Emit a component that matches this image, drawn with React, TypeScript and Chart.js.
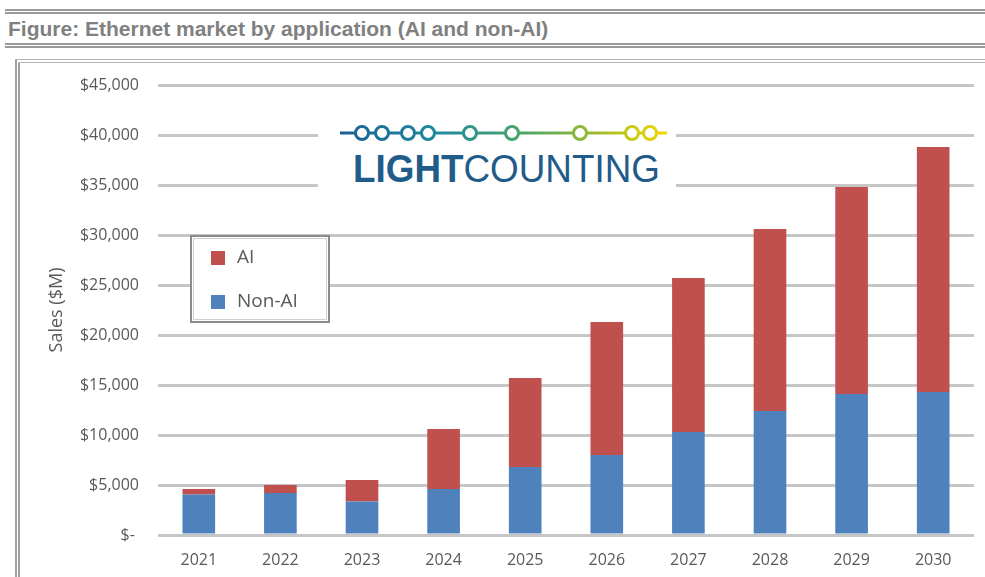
import React, { useEffect, useRef } from 'react';
import { Chart, registerables } from 'chart.js';

Chart.register(...registerables);

const TITLE = 'Figure: Ethernet market by application (AI and non-AI)';
const Y_TITLE = 'Sales ($M)';
const YEARS = ['2021', '2022', '2023', '2024', '2025', '2026', '2027', '2028', '2029', '2030'];
const NON_AI = [4050, 4200, 3350, 4600, 6800, 8000, 10300, 12400, 14100, 14300];
const AI = [550, 800, 2150, 6000, 8900, 13300, 15400, 18200, 20700, 24500];
const Y_MAX = 45000;
const Y_STEP = 5000;
const SERIES_NAMES = ['Non-AI', 'AI'];
const COLORS = ['#4F81BD', '#C0504D'];
const LOGO_DOTS = [0, 20, 46, 66, 108, 150, 218, 270, 288];

const TEXT_GRAY = '#595959';
const FONT = '"Open Sans", "Liberation Sans", sans-serif';

const boxLegend = {
  id: 'boxLegend',
  afterDraw(chart: any) {
    const { ctx, chartArea } = chart;
    const x = chartArea.left + 33;
    const y = chartArea.top + 151;
    const w = 138;
    const h = 86;
    ctx.save();
    ctx.fillStyle = '#ffffff';
    ctx.fillRect(x, y, w, h);
    ctx.strokeStyle = '#8c8c8c';
    ctx.lineWidth = 2;
    ctx.strokeRect(x, y, w, h);
    ctx.strokeStyle = '#d0d0d0';
    ctx.lineWidth = 1;
    ctx.strokeRect(x + 2.5, y + 2.5, w - 5, h - 5);
    const items = chart.data.datasets.map((d: any, i: number) => ({ label: d.label, color: d.backgroundColor, i })).reverse();
    ctx.font = `19px ${FONT}`;
    ctx.textBaseline = 'middle';
    items.forEach((it: any, k: number) => {
      const cy = y + 22 + k * 44;
      ctx.fillStyle = it.color;
      ctx.fillRect(x + 20, cy - 7, 14, 14);
      ctx.fillStyle = TEXT_GRAY;
      ctx.fillText(it.label, x + 46, cy);
    });
    ctx.restore();
  },
};

function ChartView() {
  const ref = useRef<HTMLCanvasElement>(null);
  useEffect(() => {
    if (!ref.current) return;
    const chart = new Chart(ref.current, {
      type: 'bar',
      data: {
        labels: YEARS,
        datasets: [
          { label: SERIES_NAMES[0], data: NON_AI, backgroundColor: COLORS[0], stack: 's' },
          { label: SERIES_NAMES[1], data: AI, backgroundColor: COLORS[1], stack: 's' },
        ],
      },
      plugins: [boxLegend],
      options: {
        responsive: false,
        animation: false,
        layout: { padding: { left: 40, right: 11, top: 85, bottom: 10 } },
        datasets: { bar: { categoryPercentage: 0.8, barPercentage: 0.5 } },
        plugins: { legend: { display: false }, tooltip: { enabled: false } },
        scales: {
          x: {
            stacked: true,
            afterFit: (s: any) => { s.height = 32; },
            grid: { display: false, drawTicks: false },
            border: { display: false },
            ticks: { color: TEXT_GRAY, font: { family: FONT, size: 16 }, padding: 16, maxRotation: 0 },
          },
          y: {
            stacked: true,
            min: 0,
            max: Y_MAX,
            afterFit: (s: any) => { s.width = 118; },
            grid: { color: '#c6c6c6', lineWidth: 3, drawTicks: false },
            border: { display: false },
            title: {
              display: true,
              text: Y_TITLE,
              color: TEXT_GRAY,
              font: { family: FONT, size: 18 },
              padding: { top: 6, bottom: 0 },
            },
            ticks: {
              stepSize: Y_STEP,
              color: TEXT_GRAY,
              font: { family: FONT, size: 16 },
              padding: 19,
              callback: (v: any) => (Number(v) === 0 ? '$- ' : '$' + Number(v).toLocaleString('en-US')),
            },
          },
        },
      },
    });
    return () => chart.destroy();
  }, []);
  return <canvas ref={ref} width={985} height={577} style={{ position: 'absolute', left: 0, top: 0 }} />;
}

function Logo() {
  const lineY = 16;
  const x0 = 44;
  return (
    <div style={{ position: 'absolute', left: 318, top: 117, width: 358, height: 75, background: '#ffffff' }}>
      <svg width={358} height={75}>
        <defs>
          <linearGradient id="lc" x1="22" y1="0" x2="349" y2="0" gradientUnits="userSpaceOnUse">
            <stop offset="0" stopColor="#1b5f95" />
            <stop offset="0.3" stopColor="#1f8a9c" />
            <stop offset="0.55" stopColor="#4aa46c" />
            <stop offset="0.78" stopColor="#9cbc32" />
            <stop offset="1" stopColor="#f2d800" />
          </linearGradient>
        </defs>
        <line x1={22} y1={lineY} x2={349} y2={lineY} stroke="url(#lc)" strokeWidth={3} />
        {LOGO_DOTS.map((d, i) => (
          <circle key={i} cx={x0 + d} cy={lineY} r={6.5} fill="#ffffff" stroke="url(#lc)" strokeWidth={3} />
        ))}
        <text x={35} y={65} fontFamily='"Liberation Sans", Arial, sans-serif' fontSize={39} fill="#1f5c8a" textLength={307} lengthAdjust="spacingAndGlyphs">
          <tspan fontWeight="bold">LIGHT</tspan>
          <tspan>COUNTING</tspan>
        </text>
      </svg>
    </div>
  );
}

export default function App() {
  const dbl = (top: number, left: number, color: string) => (
    <div style={{ position: 'absolute', left, top, right: 0, height: 0, borderTop: `5px double ${color}` }} />
  );
  return (
    <div style={{ position: 'absolute', left: 0, top: 0, width: 985, height: 577, overflow: 'hidden', background: '#ffffff' }}>
      {dbl(9, 5, '#9a9a9a')}
      <div
        style={{
          position: 'absolute',
          left: 8,
          top: 16,
          fontFamily: '"Liberation Sans", Arial, sans-serif',
          fontWeight: 'bold',
          fontSize: 21,
          color: '#808080',
          whiteSpace: 'nowrap',
          lineHeight: '26px',
        }}
      >
        {TITLE}
      </div>
      {dbl(43, 5, '#9a9a9a')}
      <div
        style={{
          position: 'absolute',
          left: 15,
          top: 59,
          width: 1000,
          height: 600,
          borderTop: '4px double #b4b4b4',
          borderLeft: '5px double #a0a0a0',
        }}
      />
      <ChartView />
      <Logo />
    </div>
  );
}
